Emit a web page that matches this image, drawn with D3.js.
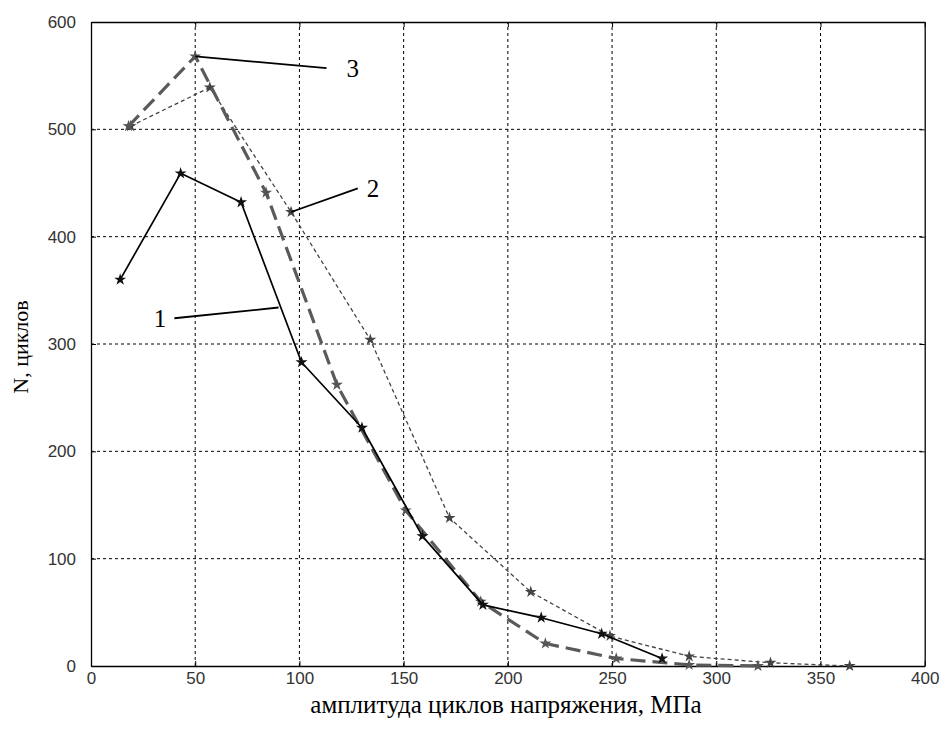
<!DOCTYPE html>
<html>
<head>
<meta charset="utf-8">
<script src="https://cdn.jsdelivr.net/npm/d3@7"></script>
<style>
  body { margin: 0; background: #fff; }
</style>
</head>
<body>
<svg width="943" height="736"></svg>
<script>
// data
var xTicks = [0, 50, 100, 150, 200, 250, 300, 350, 400];
var yTicks = [0, 100, 200, 300, 400, 500, 600];

var series1 = [[14, 360], [43, 459], [72, 432], [101, 283], [130, 222], [159, 121], [188, 57], [216, 45], [245, 30], [274, 7]];
var series2 = [[19, 503], [57, 539], [96, 423], [134, 304], [172, 138], [211, 69], [249, 28], [287, 9], [326, 3], [364, 0]];
var series3 = [[18, 503], [50, 568], [84, 441], [118, 262], [151, 145], [187, 60], [218, 21], [252, 7], [287, 1], [320, 0]];

// callouts: [label, from point, line end]
var callouts = [["1", [90, 334], [40, 324]], ["2", [96, 423], [128, 445]], ["3", [50, 568], [113, 557]]];

var svg = d3.select("svg");
var x = d3.scaleLinear().domain([0, 400]).range([91, 924.7]);
var y = d3.scaleLinear().domain([0, 600]).range([666, 22]);

// grid
svg.append("g").selectAll("line").data(xTicks.slice(1, -1)).enter().append("line")
  .attr("x1", d => x(d)).attr("x2", d => x(d))
  .attr("y1", y(0)).attr("y2", y(600))
  .style("stroke", "#000").style("stroke-width", 1).style("stroke-dasharray", "3,3");
svg.append("g").selectAll("line").data(yTicks.slice(1, -1)).enter().append("line")
  .attr("x1", x(0)).attr("x2", x(400))
  .attr("y1", d => y(d)).attr("y2", d => y(d))
  .style("stroke", "#000").style("stroke-width", 1).style("stroke-dasharray", "3,3");

// axes
var xAxis = svg.append("g").attr("transform", "translate(0," + y(0) + ")")
  .call(d3.axisBottom(x).tickValues(xTicks).tickSizeInner(-5).tickSizeOuter(0).tickPadding(6));
var yAxis = svg.append("g").attr("transform", "translate(" + x(0) + ",0)")
  .call(d3.axisLeft(y).tickValues(yTicks).tickSizeInner(-5).tickSizeOuter(0).tickPadding(15));
svg.append("g").attr("transform", "translate(0," + y(600) + ")")
  .call(d3.axisTop(x).tickValues(xTicks).tickSizeInner(-5).tickSizeOuter(0).tickFormat(""));
svg.append("g").attr("transform", "translate(" + x(400) + ",0)")
  .call(d3.axisRight(y).tickValues(yTicks).tickSizeInner(-5).tickSizeOuter(0).tickFormat(""));
svg.selectAll(".domain").style("stroke", "#000").style("stroke-width", 1.3);
svg.selectAll(".tick line").style("stroke", "#000");
svg.selectAll(".tick text").style("font-family", "Liberation Sans, Arial, sans-serif")
  .style("font-size", "17px").style("fill", "#333");

// lines
var line = d3.line().x(d => x(d[0])).y(d => y(d[1]));
var star = d3.symbol().type(d3.symbolStar).size(45);

function drawSeries(data, color, width, dash, markColor) {
  svg.append("path").datum(data).attr("d", line)
    .style("fill", "none").style("stroke", color).style("stroke-width", width)
    .style("stroke-dasharray", dash).style("stroke-linejoin", "round");
  svg.append("g").selectAll("path").data(data).enter().append("path")
    .attr("d", star).attr("transform", d => "translate(" + x(d[0]) + "," + y(d[1]) + ")")
    .style("fill", markColor);
}

drawSeries(series2, "#444", 1.3, "4,3", "#444");
drawSeries(series3, "#5a5a5a", 3.2, "15,7", "#555");
drawSeries(series1, "#000", 1.7, null, "#111");

// callout lines and numbers
callouts.forEach(function(c) {
  svg.append("line")
    .attr("x1", x(c[1][0])).attr("y1", y(c[1][1]))
    .attr("x2", x(c[2][0])).attr("y2", y(c[2][1]))
    .style("stroke", "#000").style("stroke-width", 1.8);
});
var labelDx = [-8, 9, 20];
svg.append("g").selectAll("text").data(callouts).enter().append("text")
  .attr("x", (d, i) => x(d[2][0]) + labelDx[i])
  .attr("y", d => y(d[2][1]) + 9)
  .attr("text-anchor", (d, i) => i == 0 ? "end" : "start")
  .style("font-family", "Liberation Serif, Times New Roman, serif")
  .style("font-size", "25px")
  .text(d => d[0]);

// axis titles
svg.append("text")
  .attr("x", 506).attr("y", 713)
  .attr("text-anchor", "middle")
  .style("font-family", "Liberation Serif, Times New Roman, serif")
  .style("font-size", "25px")
  .text("амплитуда циклов напряжения, МПа");
svg.append("text")
  .attr("transform", "translate(28,347) rotate(-90)")
  .attr("text-anchor", "middle")
  .style("font-family", "Liberation Serif, Times New Roman, serif")
  .style("font-size", "22px")
  .text("N, циклов");
</script>
</body>
</html>
